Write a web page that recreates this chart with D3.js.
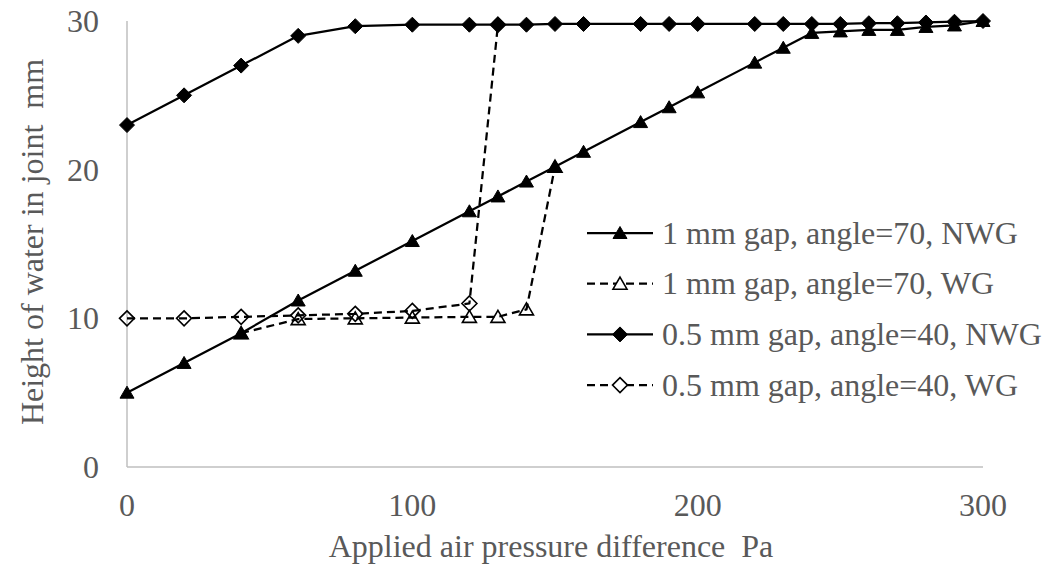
<!DOCTYPE html>
<html>
<head>
<meta charset="utf-8">
<script src="https://cdn.jsdelivr.net/npm/d3@7"></script>
<style>
  html, body { margin: 0; padding: 0; background: #fff; }
  svg { display: block; }
  text { font-family: "Liberation Serif", "Times New Roman", serif; fill: #595959; white-space: pre; }
</style>
</head>
<body>
<svg id="chart" width="1043" height="565"></svg>
<script>
// Applied pressure steps (Pa)
const pressureNWG = [0, 20, 40, 60, 80, 100, 120, 130, 140, 150, 160, 180, 190, 200, 220, 230, 240, 250, 260, 270, 280, 290, 300];

// Height of water in joint (mm)
const gap1NWG = [5, 7, 9, 11.2, 13.2, 15.2, 17.2, 18.2, 19.2, 20.2, 21.2, 23.2, 24.2, 25.2, 27.2, 28.2, 29.2, 29.3, 29.4, 29.4, 29.6, 29.7, 30];
const gap05NWG = [23, 25, 27, 29, 29.65, 29.75, 29.75, 29.75, 29.75, 29.8, 29.8, 29.8, 29.8, 29.8, 29.8, 29.8, 29.8, 29.8, 29.85, 29.85, 29.9, 29.95, 30];

const pressureGap1WG = [40, 60, 80, 100, 120, 130, 140, 150];
const gap1WG = [9, 9.95, 10.0, 10.05, 10.1, 10.1, 10.6, 20.2];

const pressureGap05WG = [0, 20, 40, 60, 80, 100, 120, 130];
const gap05WG = [10, 10, 10.1, 10.2, 10.3, 10.5, 11.0, 29.75];

const seriesNames = [
  "1 mm gap, angle=70, NWG",
  "1 mm gap, angle=70, WG",
  "0.5 mm gap, angle=40, NWG",
  "0.5 mm gap, angle=40, WG"
];

const xTicks = [0, 100, 200, 300];
const yTicks = [0, 10, 20, 30];

const series = [
  { name: seriesNames[0], xs: pressureNWG, ys: gap1NWG, marker: "triangle", filled: true, dashed: false },
  { name: seriesNames[1], xs: pressureGap1WG, ys: gap1WG, marker: "triangle", filled: false, dashed: true },
  { name: seriesNames[2], xs: pressureNWG, ys: gap05NWG, marker: "diamond", filled: true, dashed: false },
  { name: seriesNames[3], xs: pressureGap05WG, ys: gap05WG, marker: "diamond", filled: false, dashed: true }
];

const FONT = 32;
const svg = d3.select("#chart");

const x = d3.scaleLinear().domain([0, 300]).range([127, 983]);
const y = d3.scaleLinear().domain([0, 30]).range([467, 21]);

// axis lines
svg.append("line").attr("x1", x(0)).attr("x2", x(300)).attr("y1", y(0)).attr("y2", y(0))
  .attr("stroke", "#bfbfbf").attr("stroke-width", 1.5);
svg.append("line").attr("x1", x(0)).attr("x2", x(0)).attr("y1", y(0)).attr("y2", y(30))
  .attr("stroke", "#bfbfbf").attr("stroke-width", 1.5);

// tick labels
svg.append("g").selectAll("text").data(xTicks).join("text")
  .attr("x", d => x(d)).attr("y", 516)
  .attr("text-anchor", "middle").attr("font-size", FONT).text(d => d);
svg.append("g").selectAll("text").data(yTicks).join("text")
  .attr("x", 99).attr("y", d => y(d) + 11)
  .attr("text-anchor", "end").attr("font-size", FONT).text(d => d);

// axis titles
svg.append("text").attr("x", x(150) - 4).attr("y", 557)
  .attr("text-anchor", "middle").attr("font-size", FONT)
  .text("Applied air pressure difference  Pa");
svg.append("text")
  .attr("transform", `translate(43, 242) rotate(-90)`)
  .attr("text-anchor", "middle").attr("font-size", FONT)
  .text("Height of water in joint  mm");

function markerPath(type) {
  if (type === "triangle") return "M0,-6.5L7,5.5L-7,5.5Z";
  return "M0,-7.5L7.5,0L0,7.5L-7.5,0Z";
}

const line = d3.line().x(d => x(d[0])).y(d => y(d[1]));

series.forEach(s => {
  const pts = s.xs.map((v, i) => [v, s.ys[i]]);
  const g = svg.append("g");
  g.append("path").datum(pts).attr("d", line)
    .attr("fill", "none").attr("stroke", "#000").attr("stroke-width", 2.25)
    .attr("stroke-dasharray", s.dashed ? "8,5" : null)
    .attr("stroke-linejoin", "round");
  g.selectAll("path.m").data(pts).join("path").attr("class", "m")
    .attr("transform", d => `translate(${x(d[0])},${y(d[1])})`)
    .attr("d", markerPath(s.marker))
    .attr("fill", s.filled ? "#000" : "none")
    .attr("stroke", "#000").attr("stroke-width", s.filled ? 1 : 1.6);
});

// legend
const legend = svg.append("g");
series.forEach((s, i) => {
  const ly = 233 + i * 50.7;
  legend.append("line").attr("x1", 587).attr("x2", 653).attr("y1", ly).attr("y2", ly)
    .attr("stroke", "#000").attr("stroke-width", 2.25)
    .attr("stroke-dasharray", s.dashed ? "8,5" : null);
  legend.append("path").attr("transform", `translate(620,${ly})`)
    .attr("d", markerPath(s.marker))
    .attr("fill", s.filled ? "#000" : "#fff")
    .attr("stroke", "#000").attr("stroke-width", s.filled ? 1 : 1.6);
  legend.append("text").attr("x", 662).attr("y", ly + 10.5)
    .attr("font-size", FONT).text(s.name);
});
</script>
</body>
</html>
